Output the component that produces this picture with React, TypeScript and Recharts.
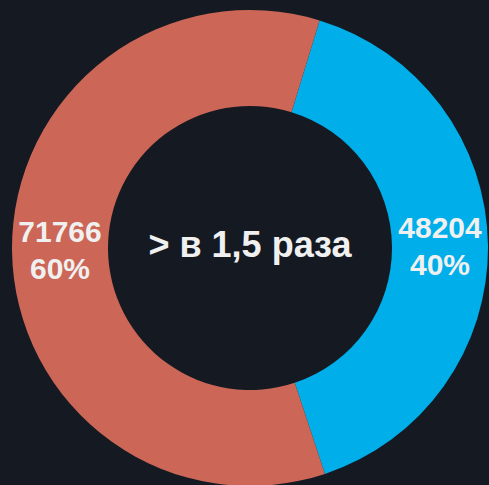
import { PieChart, Pie, Cell } from 'recharts'

const names = ['Синие', 'Красные']
const values = [48204, 71766]
const colors = ['#00aee9', '#cc6657']
const centerText = '> в 1,5 раза'

const BG = '#151a22'
const TEXT = '#f0f0f0'
const FONT = '"Liberation Sans", Arial, sans-serif'

const data = names.map((name, i) => ({ name, value: values[i] }))
const total = values.reduce((a, b) => a + b, 0)

const RAD = Math.PI / 180

function renderLabel(props: any) {
  const { cx, cy, midAngle, innerRadius, outerRadius, value } = props
  const r = (innerRadius + outerRadius) / 2
  const x = cx + r * Math.cos(-midAngle * RAD)
  const y = cy + r * Math.sin(-midAngle * RAD)
  const pct = Math.round((value / total) * 100)
  return (
    <text
      x={x}
      y={y}
      fill={TEXT}
      textAnchor="middle"
      fontFamily={FONT}
      fontWeight="bold"
      fontSize={30}
    >
      <tspan x={x} y={y - 8}>{value}</tspan>
      <tspan x={x} y={y + 29}>{pct}%</tspan>
    </text>
  )
}

export default function App() {
  return (
    <div style={{ position: 'fixed', left: 0, top: 0, width: 489, height: 485, background: BG }}>
      <PieChart width={489} height={485} margin={{ top: 0, right: 0, bottom: 0, left: 0 }}>
        <Pie
          data={data}
          dataKey="value"
          nameKey="name"
          cx={250}
          cy={248}
          innerRadius={142}
          outerRadius={238}
          startAngle={73}
          endAngle={-287}
          stroke="none"
          label={renderLabel}
          labelLine={false}
          isAnimationActive={false}
        >
          {data.map((_, i) => (
            <Cell key={i} fill={colors[i]} />
          ))}
        </Pie>
        <text
          x={250}
          y={257}
          fill={TEXT}
          textAnchor="middle"
          fontFamily={FONT}
          fontWeight="bold"
          fontSize={36}
        >
          {centerText}
        </text>
      </PieChart>
    </div>
  )
}
